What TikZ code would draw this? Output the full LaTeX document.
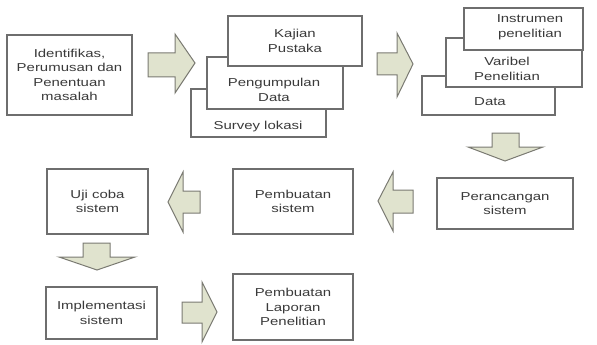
\documentclass[tikz,border=0pt]{standalone}
\usepackage{fontspec}
\newfontfamily\kotakfont{Liberation Sans}[FakeStretch=1.3]
\definecolor{garis}{HTML}{6E6E6E}
\definecolor{tulisan}{HTML}{3A3A3A}
\definecolor{isipanah}{HTML}{E0E3CE}
\definecolor{garispanah}{HTML}{7A7A72}

\begin{document}
\begin{tikzpicture}[x=1pt,y=-1pt]
	\tikzstyle{kotak}=[draw=garis, line width=1.1pt, fill=white, inner sep=0pt, align=center, text=tulisan, font=\kotakfont\fontsize{11.5}{14.5}\selectfont]
	\tikzstyle{teks}=[inner sep=0pt, align=center, text=tulisan, font=\kotakfont\fontsize{11.5}{14.5}\selectfont]
	\tikzstyle{panah}=[draw=garispanah, line width=1pt, fill=isipanah, line join=miter]
	\useasboundingbox (0,0) rectangle (597,345);

	% baris atas
	\node[kotak, minimum width=125pt, minimum height=80pt] (identifikasi) at (69.5,75){Identifikas,\\Perumusan dan\\Penentuan\\masalah};
	\node[kotak, minimum width=135pt, minimum height=48pt] (survey) at (258.5,113){};
	\node[kotak, minimum width=136pt, minimum height=52pt] (pengumpulan) at (275,83){};
	\node[kotak, minimum width=134pt, minimum height=50pt] (kajian) at (295,41){Kajian\\Pustaka};
	\node[teks] (tsurvey) at (258,127){Survey lokasi};
	\node[teks] (tpengumpulan) at (274,90){Pengumpulan\\Data};

	\node[kotak, minimum width=133pt, minimum height=39pt] (data) at (488.5,95.5){};
	\node[kotak, minimum width=136pt, minimum height=49pt] (varibel) at (514,62.5){};
	\node[kotak, minimum width=119pt, minimum height=42pt] (instrumen) at (523.5,29){};
	\node[teks] (tdata) at (490,102){Data};
	\node[teks] (tvaribel) at (507,69){Varibel\\Penelitian};
	\node[teks] (tinstrumen) at (530,27){Instrumen\\penelitian};

	% baris tengah
	\node[kotak, minimum width=136pt, minimum height=51pt] (perancangan) at (505,203.5){Perancangan\\sistem};
	\node[kotak, minimum width=120pt, minimum height=65pt] (pembuatan) at (293,201.5){Pembuatan\\sistem};
	\node[kotak, minimum width=101pt, minimum height=65pt] (ujicoba) at (97.5,201.5){Uji coba\\sistem};

	% baris bawah
	\node[kotak, minimum width=111pt, minimum height=52pt] (implementasi) at (101.5,313){Implementasi\\sistem};
	\node[kotak, minimum width=120pt, minimum height=66pt] (laporan) at (293,307){Pembuatan\\Laporan\\Penelitian};

	% panah blok
\draw[panah] (148,53) -- (175,53) -- (175,34) -- (195,63) -- (175,93) -- (175,77) -- (148,77) -- cycle;
\draw[panah] (377,53) -- (397,53) -- (397,33) -- (413,64) -- (397,97) -- (397,75) -- (377,75) -- cycle;
\draw[panah] (492,133) -- (519,133) -- (519,147) -- (543,147) -- (505,161) -- (468,147) -- (492,147) -- cycle;
\draw[panah] (413,190) -- (393,190) -- (393,172) -- (378,201) -- (393,231) -- (393,213) -- (413,213) -- cycle;
\draw[panah] (200,191) -- (183,191) -- (183,172) -- (168,202) -- (183,232) -- (183,213) -- (200,213) -- cycle;
\draw[panah] (83,243) -- (110,243) -- (110,257) -- (135,257) -- (97,270) -- (59,257) -- (83,257) -- cycle;
\draw[panah] (182,302) -- (202,302) -- (202,282) -- (217,312) -- (202,342) -- (202,323) -- (182,323) -- cycle;

\end{tikzpicture}
\end{document}
